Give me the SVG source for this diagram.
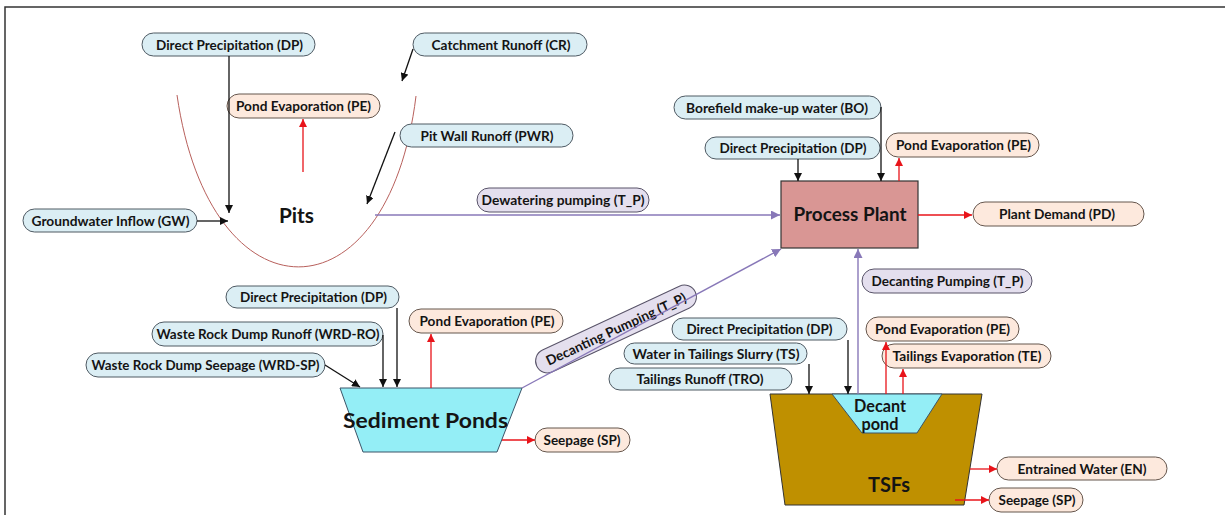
<svg xmlns="http://www.w3.org/2000/svg" width="1225" height="515" viewBox="0 0 1225 515">
  <style>
    text { font-family: "Lato", "Liberation Sans", sans-serif; font-weight: bold; fill: #141414; }
    .lbl { font-size: 13.5px; }
    .in { fill: #dbeef4; stroke: #4f5a63; stroke-width: 1; }
    .out { fill: #fde9dd; stroke: #65564d; stroke-width: 1; }
    .pump { fill: #e4dfee; stroke: #585368; stroke-width: 1; }
    .blk { stroke: #111; stroke-width: 1.3; fill: none; marker-end: url(#ahBlack); }
    .red { stroke: #e8141a; stroke-width: 1.3; fill: none; marker-end: url(#ahRed); }
    .pur { stroke: #8878b8; stroke-width: 1.4; fill: none; marker-end: url(#ahPurple); }
    .big { font-size: 21px; }
  </style>
  <defs>
    <marker id="ahBlack" viewBox="0 0 10 10" refX="10" refY="5" markerWidth="8" markerHeight="8" markerUnits="userSpaceOnUse" orient="auto">
      <path d="M0,0 L10,5 L0,10 z" fill="#111"/>
    </marker>
    <marker id="ahRed" viewBox="0 0 10 10" refX="10" refY="5" markerWidth="8" markerHeight="8" markerUnits="userSpaceOnUse" orient="auto">
      <path d="M0,0 L10,5 L0,10 z" fill="#e8141a"/>
    </marker>
    <marker id="ahPurple" viewBox="0 0 10 10" refX="10" refY="5" markerWidth="9" markerHeight="9" markerUnits="userSpaceOnUse" orient="auto">
      <path d="M0,0 L10,5 L0,10 z" fill="#8878b8"/>
    </marker>
  </defs>

  <rect x="0" y="0" width="1225" height="515" fill="#ffffff"/>
  <!-- frame -->
  <path d="M5,515 V7 H1225" fill="none" stroke="#333" stroke-width="1.5"/>

  <!-- Pits -->
  <g id="pits">
    <path d="M177,95 C210,324 388,324 416,96" fill="none" stroke="#b8605c" stroke-width="1"/>
    <text class="big" x="279" y="223" textLength="35" lengthAdjust="spacingAndGlyphs">Pits</text>
  </g>
  <g id="pits-dp"><rect class="in" x="142" y="33" width="173" height="23" rx="11.5"/><text class="lbl" x="156" y="49.5" textLength="147" lengthAdjust="spacingAndGlyphs">Direct Precipitation (DP)</text></g>
  <g id="pits-cr"><rect class="in" x="413" y="33" width="174" height="23" rx="11.5"/><text class="lbl" x="431.5" y="49.5" textLength="139" lengthAdjust="spacingAndGlyphs">Catchment Runoff (CR)</text></g>
  <g id="pits-pe"><rect class="out" x="227" y="94" width="153" height="24" rx="12"/><text class="lbl" x="236" y="111" textLength="135" lengthAdjust="spacingAndGlyphs">Pond Evaporation (PE)</text></g>
  <g id="pits-pwr"><rect class="in" x="400" y="124" width="173" height="23" rx="11.5"/><text class="lbl" x="420.5" y="140.5" textLength="133" lengthAdjust="spacingAndGlyphs">Pit Wall Runoff (PWR)</text></g>
  <g id="pits-gw"><rect class="in" x="23" y="209" width="174" height="23" rx="11.5"/><text class="lbl" x="31.5" y="225.5" textLength="158" lengthAdjust="spacingAndGlyphs">Groundwater Inflow (GW)</text></g>
  <g id="dewatering"><rect class="pump" x="477" y="188" width="172" height="24" rx="12"/><text class="lbl" x="481.5" y="205" textLength="163" lengthAdjust="spacingAndGlyphs">Dewatering pumping (T_P)</text></g>

  <!-- Process Plant -->
  <g id="plant">
    <rect x="781" y="181" width="137" height="67" fill="#d99694" stroke="#333" stroke-width="1.2"/>
    <text x="793.5" y="220.5" font-size="18.5" textLength="113" lengthAdjust="spacingAndGlyphs">Process Plant</text>
  </g>
  <g id="plant-bo"><rect class="in" x="674" y="96" width="207" height="23" rx="11.5"/><text class="lbl" x="686" y="112.5" textLength="182" lengthAdjust="spacingAndGlyphs">Borefield make-up water (BO)</text></g>
  <g id="plant-dp"><rect class="in" x="705" y="137" width="175" height="22" rx="11"/><text class="lbl" x="719.5" y="153" textLength="147" lengthAdjust="spacingAndGlyphs">Direct Precipitation (DP)</text></g>
  <g id="plant-pe"><rect class="out" x="886" y="133" width="153" height="24" rx="12"/><text class="lbl" x="896" y="150" textLength="135" lengthAdjust="spacingAndGlyphs">Pond Evaporation (PE)</text></g>
  <g id="plant-pd"><rect class="out" x="973" y="202" width="171" height="24" rx="12"/><text class="lbl" x="999" y="219" textLength="116" lengthAdjust="spacingAndGlyphs">Plant Demand (PD)</text></g>
  <g id="decant-pump"><rect class="pump" x="862" y="269" width="170" height="24" rx="12"/><text class="lbl" x="871.5" y="286" textLength="152" lengthAdjust="spacingAndGlyphs">Decanting Pumping (T_P)</text></g>

  <!-- Sediment Ponds -->
  <g id="sediment">
    <polygon points="340,388 522,388 497,452 363,452" fill="#94eef6" stroke="#3b5468" stroke-width="1"/>
    <text class="big" x="343" y="427.5" font-size="22" textLength="165" lengthAdjust="spacingAndGlyphs">Sediment Ponds</text>
  </g>
  <g id="sed-dp"><rect class="in" x="226" y="286" width="173" height="22" rx="11"/><text class="lbl" x="240" y="302" textLength="147" lengthAdjust="spacingAndGlyphs">Direct Precipitation (DP)</text></g>
  <g id="sed-wrdro"><rect class="in" x="152" y="322" width="231" height="24" rx="12"/><text class="lbl" x="156.5" y="339" textLength="223" lengthAdjust="spacingAndGlyphs">Waste Rock Dump Runoff (WRD-RO)</text></g>
  <g id="sed-wrdsp"><rect class="in" x="86" y="353" width="239" height="24" rx="12"/><text class="lbl" x="91.5" y="370" textLength="228" lengthAdjust="spacingAndGlyphs">Waste Rock Dump Seepage (WRD-SP)</text></g>
  <g id="sed-pe"><rect class="out" x="409" y="309" width="154" height="24" rx="12"/><text class="lbl" x="419.5" y="326" textLength="135" lengthAdjust="spacingAndGlyphs">Pond Evaporation (PE)</text></g>
  <g id="sed-sp"><rect class="out" x="535" y="428" width="95" height="24" rx="12"/><text class="lbl" x="543.5" y="445" textLength="77" lengthAdjust="spacingAndGlyphs">Seepage (SP)</text></g>
  <g id="sed-pump" transform="rotate(-25 616 329)"><rect class="pump" x="528.5" y="317" width="175" height="24" rx="12"/><text class="lbl" x="616" y="334" text-anchor="middle" textLength="153" lengthAdjust="spacingAndGlyphs">Decanting Pumping (T_P)</text></g>

  <!-- TSFs -->
  <g id="tsf">
    <polygon points="770,394 982,394 964,505 785,505" fill="#bf9000" stroke="#333" stroke-width="1"/>
    <polygon points="832,394 942,394 917,433 862,433" fill="#94eef6" stroke="#3b5468" stroke-width="1"/>
    <text x="854" y="411.5" font-size="16.5" textLength="52" lengthAdjust="spacingAndGlyphs">Decant</text>
    <text x="861.5" y="429.5" font-size="16.5" textLength="37" lengthAdjust="spacingAndGlyphs">pond</text>
    <text class="big" x="868" y="492" textLength="42" lengthAdjust="spacingAndGlyphs">TSFs</text>
  </g>
  <g id="tsf-dp"><rect class="in" x="672" y="318" width="175" height="22" rx="11"/><text class="lbl" x="686.5" y="334" textLength="146" lengthAdjust="spacingAndGlyphs">Direct Precipitation (DP)</text></g>
  <g id="tsf-ts"><rect class="in" x="624" y="343" width="183" height="21" rx="10.5"/><text class="lbl" x="632.5" y="358.5" textLength="167" lengthAdjust="spacingAndGlyphs">Water in Tailings Slurry (TS)</text></g>
  <g id="tsf-tro"><rect class="in" x="609" y="368" width="183" height="22" rx="11"/><text class="lbl" x="636.5" y="384" textLength="127" lengthAdjust="spacingAndGlyphs">Tailings Runoff (TRO)</text></g>
  <g id="tsf-pe"><rect class="out" x="866" y="317" width="153" height="24" rx="12"/><text class="lbl" x="875" y="334" textLength="135" lengthAdjust="spacingAndGlyphs">Pond Evaporation (PE)</text></g>
  <g id="tsf-te"><rect class="out" x="882" y="344" width="169" height="24" rx="12"/><text class="lbl" x="892.5" y="361" textLength="149" lengthAdjust="spacingAndGlyphs">Tailings Evaporation (TE)</text></g>
  <g id="tsf-en"><rect class="out" x="997" y="457" width="170" height="23" rx="11.5"/><text class="lbl" x="1017.5" y="473.5" textLength="129" lengthAdjust="spacingAndGlyphs">Entrained Water (EN)</text></g>
  <g id="tsf-sp"><rect class="out" x="989" y="488" width="94" height="24" rx="12"/><text class="lbl" x="998.5" y="505" textLength="77" lengthAdjust="spacingAndGlyphs">Seepage (SP)</text></g>

  <!-- flows -->
  <g id="connectors">
    <path class="blk" d="M229,56 V213"/>
    <path class="blk" d="M413,49 L402,81"/>
    <path class="blk" d="M395,132 L367,204"/>
    <path class="blk" d="M197,221 H228"/>
    <path class="blk" d="M881,107 V181"/>
    <path class="blk" d="M798,159 V181"/>
    <path class="blk" d="M397,308 V387"/>
    <path class="blk" d="M383,335 V387"/>
    <path class="blk" d="M325,365 L360,387"/>
    <path class="blk" d="M809,364 V394"/>
    <path class="blk" d="M848,340 V394"/>

    <path class="red" d="M303,172 V119"/>
    <path class="red" d="M899,181 V158"/>
    <path class="red" d="M918,215 H972"/>
    <path class="red" d="M431,388 V334"/>
    <path class="red" d="M502,440 H535"/>
    <path class="red" d="M886,394 V342"/>
    <path class="red" d="M903,394 V369"/>
    <path class="red" d="M970,469 H997"/>
    <path class="red" d="M955,500 H989"/>

    <path class="pur" d="M375,215 H780"/>
    <path class="pur" d="M522,388 L781,249"/>
    <path class="pur" d="M858,394 V249"/>
  </g>
</svg>
